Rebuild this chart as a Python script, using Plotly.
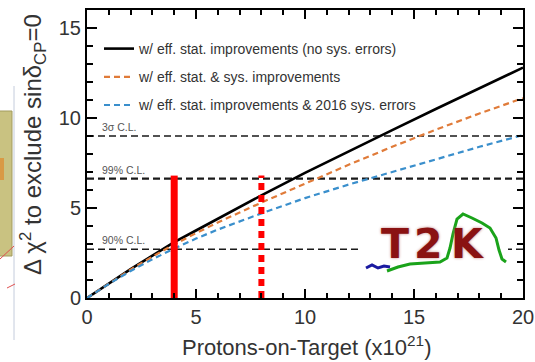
import plotly.graph_objects as go

# Protons-on-target (x10^21)
pot = [0, 1, 2, 3, 4, 5, 6, 7, 8, 10, 12, 14, 16, 18, 20]

# Delta chi^2 to exclude sin(delta_CP)=0 for each scenario
chi2_stat_only = [0, 0.80, 1.60, 2.35, 3.10, 3.75, 4.40, 5.05, 5.70, 6.95, 8.15, 9.33, 10.50, 11.65, 12.80]
chi2_stat_sys = [0, 0.80, 1.58, 2.30, 2.98, 3.60, 4.20, 4.75, 5.30, 6.35, 7.40, 8.40, 9.35, 10.25, 11.10]
chi2_stat_2016 = [0, 0.78, 1.50, 2.15, 2.75, 3.30, 3.80, 4.25, 4.70, 5.55, 6.30, 7.00, 7.70, 8.40, 9.05]

series_names = [
    "w/ eff. stat. improvements (no sys. errors)",
    "w/ eff. stat. & sys. improvements",
    "w/ eff. stat. improvements & 2016 sys. errors",
]

# Confidence-level thresholds
cl_values = [2.71, 6.63, 9.0]
cl_labels = ["90% C.L.", "99% C.L.", "3σ C.L."]

# Exposure markers (x10^21 POT) and their height
pot_marks = [4, 8]
mark_top = 6.8

x_range = [0, 20]
y_range = [0, 16]

fig = go.Figure()

# C.L. reference lines
cl_widths = [1.6, 2.3, 1.3]
for v, w in zip(cl_values, cl_widths):
    fig.add_trace(go.Scatter(
        x=x_range, y=[v, v], mode="lines", showlegend=False, hoverinfo="skip",
        line=dict(color="#1a1a1a", width=w, dash="7px,4px"),
    ))

# Sensitivity curves
fig.add_trace(go.Scatter(
    x=pot, y=chi2_stat_only, mode="lines", name=series_names[0], legendgroup="a",
    line=dict(color="black", width=2.6),
))
fig.add_trace(go.Scatter(
    x=pot, y=chi2_stat_sys, mode="lines", name=series_names[1], legendgroup="b",
    line=dict(color="#e07b39", width=2.2, dash="6px,4px"),
))
fig.add_trace(go.Scatter(
    x=pot, y=chi2_stat_2016, mode="lines", name=series_names[2], legendgroup="c",
    line=dict(color="#3a8fcc", width=2.2, dash="6px,4px"),
))

# Exposure markers
fig.add_trace(go.Scatter(
    x=[pot_marks[0], pot_marks[0]], y=[0, mark_top], mode="lines", showlegend=False,
    line=dict(color="#ff0000", width=7),
))
fig.add_trace(go.Scatter(
    x=[pot_marks[1], pot_marks[1]], y=[0, mark_top], mode="lines", showlegend=False,
    line=dict(color="#ff0000", width=6, dash="7px,5px"),
))


def px_x(p):
    return (p - 87) / 436.0


def px_y(p):
    return (298 - p) / 288.0


annotations = []
for v, lab in zip(cl_values, cl_labels):
    annotations.append(dict(
        x=0.6, y=v, xref="x", yref="y", text=lab, showarrow=False,
        xanchor="left", yanchor="bottom", yshift=1,
        font=dict(family="Liberation Sans", size=10.5, color="#555"),
    ))

# T2K logo lettering
logo_font = dict(family="DejaVu Sans", size=41, weight="bold", color="#8a1212",
                 shadow="0px 0px 3px #c08080")
for ch, cx in zip("T2K", [395, 428, 468]):
    annotations.append(dict(
        x=px_x(cx), y=px_y(244), xref="paper", yref="paper", text=ch, showarrow=False,
        xanchor="center", yanchor="middle", font=logo_font,
    ))

# Axis titles
annotations.append(dict(
    x=px_x(33), y=px_y(145), xref="paper", yref="paper", xanchor="center", yanchor="middle",
    text="Δ χ<sup>2</sup> to exclude sinδ<sub>CP</sub>=0", textangle=-90, showarrow=False,
    font=dict(family="Liberation Sans", size=24, color="#333"),
))
annotations.append(dict(
    x=px_x(306), y=px_y(346), xref="paper", yref="paper", xanchor="center", yanchor="middle",
    text="Protons-on-Target (x10<sup>21</sup>)", showarrow=False,
    font=dict(family="Liberation Sans", size=22, color="#333"),
))

shapes = [
    # white backing of the logo
    dict(type="rect", xref="paper", yref="paper", layer="above",
         x0=px_x(360), x1=px_x(508), y0=px_y(272), y1=px_y(222),
         fillcolor="white", line=dict(width=0)),
]


def path_from(points):
    return "M " + " L ".join(f"{px_x(a):.4f},{px_y(b):.4f}" for a, b in points)


green_pts = [(387, 271), (398, 267), (410, 264), (425, 263), (440, 262), (447, 258),
             (450, 248), (453, 234), (457, 219), (463, 214), (472, 218), (482, 223),
             (490, 228), (496, 238), (499, 250), (502, 259), (506, 262)]
blue_pts = [(366, 268), (372, 265), (378, 268), (384, 266), (390, 267)]
shapes.append(dict(type="path", xref="paper", yref="paper", layer="above",
                   path=path_from(blue_pts), line=dict(color="#1a1aa0", width=3)))
shapes.append(dict(type="path", xref="paper", yref="paper", layer="above",
                   path=path_from(green_pts), line=dict(color="#1aa31a", width=3)))

# Slide fragment at the left edge
shapes += [
    dict(type="line", xref="paper", yref="paper", x0=px_x(14), x1=px_x(14),
         y0=px_y(86), y1=px_y(340), line=dict(color="#c4ccdc", width=1)),
    dict(type="rect", xref="paper", yref="paper", x0=px_x(-2), x1=px_x(12),
         y0=px_y(256), y1=px_y(111), fillcolor="#c9c281", line=dict(color="#a29b5e", width=1)),
    dict(type="rect", xref="paper", yref="paper", x0=px_x(-2), x1=px_x(4),
         y0=px_y(180), y1=px_y(158), fillcolor="#d99a45", line=dict(width=0)),
    dict(type="line", xref="paper", yref="paper", x0=px_x(0), x1=px_x(14),
         y0=px_y(259), y1=px_y(246), line=dict(color="#e05050", width=1)),
    dict(type="line", xref="paper", yref="paper", x0=px_x(7), x1=px_x(15),
         y0=px_y(288), y1=px_y(284), line=dict(color="#e05050", width=1)),
]

axis_font = dict(family="Liberation Sans", size=20, color="#333")

fig.update_layout(
    width=535, height=362,
    margin=dict(l=87, r=12, t=10, b=64, autoexpand=False),
    paper_bgcolor="white", plot_bgcolor="white",
    font=dict(family="Liberation Sans", color="#333"),
    showlegend=True,
    legend=dict(
        x=px_x(99), y=px_y(33), xanchor="left", yanchor="top",
        bgcolor="rgba(0,0,0,0)", tracegroupgap=7,
        font=dict(family="Liberation Sans", size=14, color="#333"),
    ),
    annotations=annotations,
    shapes=shapes,
)

fig.update_xaxes(
    range=x_range, tickvals=[0, 5, 10, 15, 20], ticks="inside", ticklen=9, tickwidth=1.5,
    tickcolor="black", showline=True, linecolor="black", linewidth=2, mirror="ticks",
    showgrid=False, zeroline=False, tickfont=axis_font, automargin=False,
    minor=dict(dtick=1, ticks="inside", ticklen=5, tickwidth=1.5, tickcolor="black", showgrid=False),
)
fig.update_yaxes(
    range=y_range, tickvals=[0, 5, 10, 15], ticks="inside", ticklen=10, tickwidth=1.5,
    tickcolor="black", showline=True, linecolor="black", linewidth=2, mirror="ticks",
    showgrid=False, zeroline=False, tickfont=axis_font, automargin=False,
    minor=dict(dtick=1, ticks="inside", ticklen=6, tickwidth=1.5, tickcolor="black", showgrid=False),
)

fig.write_html("out.html")
